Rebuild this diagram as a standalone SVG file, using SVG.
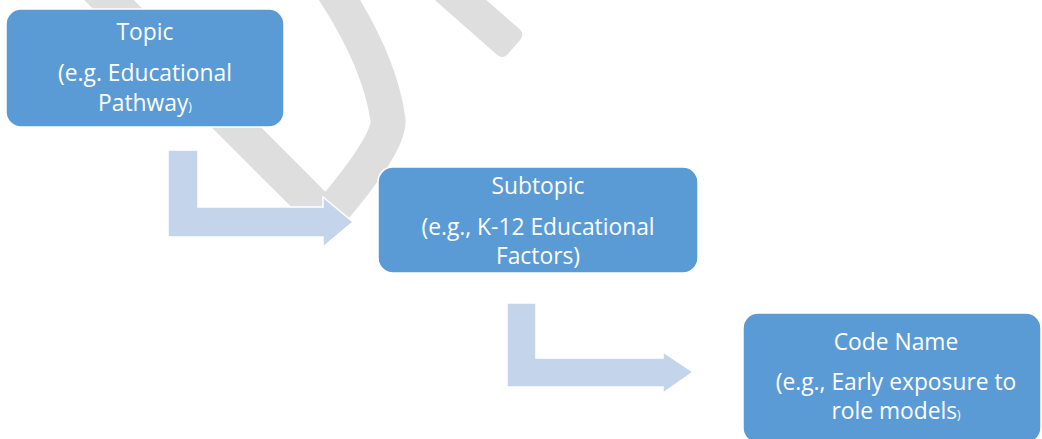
<svg xmlns="http://www.w3.org/2000/svg" width="1042" height="439" viewBox="0 0 1042 439">
  <defs>
    <style>
      .mark { fill: none; stroke: #DEDEDE; stroke-width: 35; stroke-linecap: butt; }
      .mark-fill { fill: #DEDEDE; }
      .box { fill: #5B9BD5; stroke: #FFFFFF; stroke-width: 1.5; }
      .flow { fill: #C4D4EA; stroke: #FFFFFF; stroke-width: 1.5; stroke-linejoin: miter; }
      .label { fill: #FFFFFF; font-family: "Open Sans", "Noto Sans", sans-serif; font-size: 22.8px; text-anchor: middle; }
      .tiny { font-size: 12px; }
    </style>
  </defs>

  <rect width="1042" height="439" fill="#FFFFFF"/>

  <!-- background grey strokes -->
  <g id="backdrop">
    <path class="mark" d="M 94,-15 L 330,221"/>
    <path class="mark" d="M 330,-15 Q 380,60 388,120 Q 390,145 320,225"/>
    <rect class="mark-fill" x="-160" y="-17" width="160" height="34" rx="7" transform="translate(514,47) rotate(41.3)"/>
  </g>

  <!-- bent arrows between levels -->
  <g id="connectors">
    <path class="flow" d="M 168,150 L 198,150 L 198,207 L 323,207 L 323,197 L 353,222 L 323,247 L 323,237 L 168,237 Z"/>
    <path class="flow" d="M 507,303 L 536,303 L 536,358 L 663,358 L 663,352 L 693,372 L 663,393 L 663,387 L 507,387 Z"/>
  </g>

  <g id="topic">
    <rect class="box" x="6" y="9" width="278" height="118" rx="15"/>
    <text class="label" x="145" y="40">Topic</text>
    <text class="label" x="145" y="81">(e.g. Educational</text>
    <text class="label" x="145" y="111">Pathway<tspan class="tiny">)</tspan></text>
  </g>

  <g id="subtopic">
    <rect class="box" x="378" y="167" width="320" height="106" rx="15"/>
    <text class="label" x="538" y="194">Subtopic</text>
    <text class="label" x="538" y="235">(e.g., K-12 Educational</text>
    <text class="label" x="538" y="264">Factors)</text>
  </g>

  <g id="code-name">
    <rect class="box" x="743" y="313" width="298" height="130" rx="15"/>
    <text class="label" x="896" y="350">Code Name</text>
    <text class="label" x="896" y="390">(e.g., Early exposure to</text>
    <text class="label" x="896" y="419">role models<tspan class="tiny">)</tspan></text>
  </g>
</svg>
